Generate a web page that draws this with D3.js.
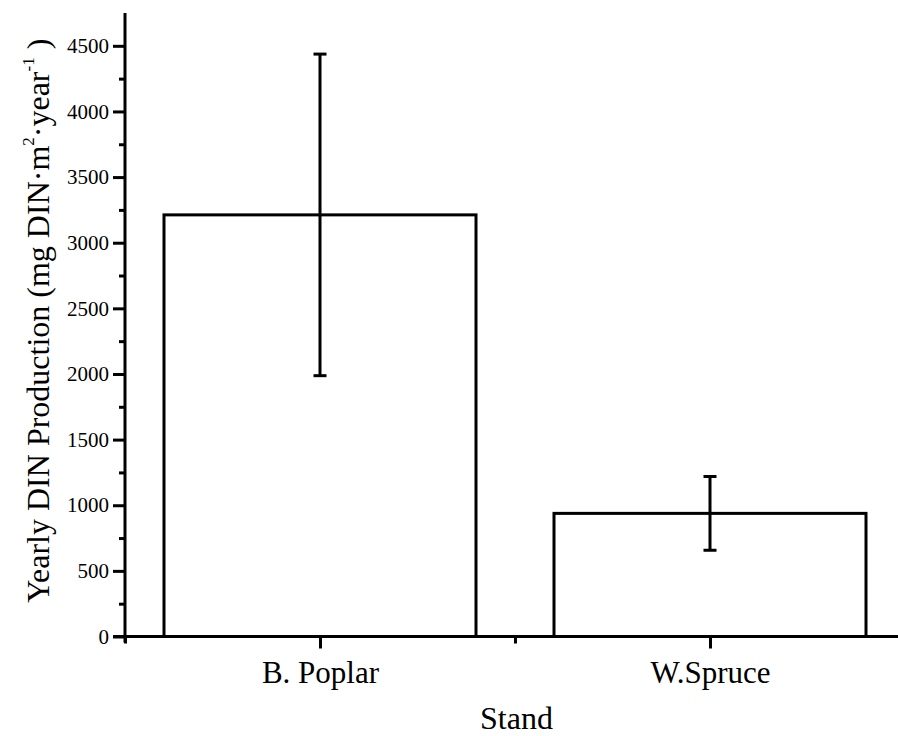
<!DOCTYPE html>
<html>
<head>
<meta charset="utf-8">
<script src="https://cdn.jsdelivr.net/npm/d3@7"></script>
<style>
  html, body { margin: 0; padding: 0; background: #fff; }
  svg { display: block; }
  text { font-family: "Liberation Serif", "Times New Roman", serif; fill: #000; }
</style>
</head>
<body>
<svg id="chart" width="898" height="736"></svg>
<script>
// Yearly dissolved inorganic nitrogen production per stand (mean ± error)
const categories = ["B. Poplar", "W.Spruce"];
const means = [3212, 938];
const errors = [1225, 281];
const yTickValues = [0, 500, 1000, 1500, 2000, 2500, 3000, 3500, 4000, 4500];

const svg = d3.select("#chart");
const W = 898, H = 736;

const y = d3.scaleLinear().domain([0, 4750]).range([636.5, 13]);
// categories sit at positions 1 and 2 on a continuous axis
const x = d3.scaleLinear().domain([0.5, 2.5]).range([125, 905]);
const barWidth = 0.8;

const black = "#000";
const lw = 3;

// bars
svg.append("g").selectAll("rect")
  .data(means)
  .join("rect")
  .attr("x", (d, i) => x(i + 1 - barWidth / 2))
  .attr("width", (d, i) => x(i + 1 + barWidth / 2) - x(i + 1 - barWidth / 2))
  .attr("y", d => y(d))
  .attr("height", d => y(0) - y(d))
  .attr("fill", "#fff")
  .attr("stroke", black)
  .attr("stroke-width", lw);

// error bars
const eb = svg.append("g").attr("stroke", black).attr("stroke-width", lw);
means.forEach((m, i) => {
  const cx = x(i + 1);
  const hi = y(m + errors[i]), lo = y(m - errors[i]);
  eb.append("line").attr("x1", cx).attr("x2", cx).attr("y1", hi).attr("y2", lo);
  eb.append("line").attr("x1", cx - 6.5).attr("x2", cx + 6.5).attr("y1", hi).attr("y2", hi);
  eb.append("line").attr("x1", cx - 6.5).attr("x2", cx + 6.5).attr("y1", lo).attr("y2", lo);
});

// y axis: minor ticks every 250, major every 500
const yMinor = d3.range(250, 4750, 500);
const yAxisG = svg.append("g").attr("transform", `translate(${x(0.5)},0)`);
yAxisG.call(d3.axisLeft(y).tickValues(yMinor).tickSize(6).tickFormat(""))
  .call(g => g.select(".domain").remove());
yAxisG.append("g")
  .call(d3.axisLeft(y).tickValues(yTickValues).tickSize(12).tickPadding(4)
    .tickFormat(d3.format("d")))
  .call(g => g.select(".domain").remove())
  .call(g => g.selectAll("text").style("font-size", "21px"));
yAxisG.selectAll("line").attr("stroke", black).attr("stroke-width", lw);
yAxisG.append("line")
  .attr("x1", 0).attr("x2", 0)
  .attr("y1", y(4750)).attr("y2", y(0) + 6)
  .attr("stroke", black).attr("stroke-width", lw);

// x axis: major ticks at categories, minor ticks between
const xAxisG = svg.append("g").attr("transform", `translate(0,${y(0)})`);
xAxisG.call(d3.axisBottom(x).tickValues([0.5, 1.5, 2.5]).tickSize(7).tickFormat(""))
  .call(g => g.select(".domain").remove());
xAxisG.append("g")
  .call(d3.axisBottom(x).tickValues([1, 2]).tickSize(12).tickPadding(12)
    .tickFormat(d => categories[d - 1]))
  .call(g => g.select(".domain").remove())
  .call(g => g.selectAll("text").style("font-size", "31px"));
xAxisG.selectAll("line").attr("stroke", black).attr("stroke-width", lw);
xAxisG.append("line")
  .attr("x1", x(0.5) - 12).attr("x2", W)
  .attr("y1", 0).attr("y2", 0)
  .attr("stroke", black).attr("stroke-width", lw);

// axis titles
svg.append("text")
  .attr("x", (x(0.5) + W) / 2 + 5)
  .attr("y", 729)
  .attr("text-anchor", "middle")
  .style("font-size", "32px")
  .text("Stand");

const yTitle = svg.append("text")
  .attr("transform", `translate(49,${(y(0) + y(4750)) / 2 - 4}) rotate(-90)`)
  .attr("text-anchor", "middle")
  .style("font-size", "32px");
yTitle.append("tspan").text("Yearly DIN Production (mg DIN·m");
yTitle.append("tspan").attr("dy", -15).style("font-size", "17px").text("2");
yTitle.append("tspan").attr("dy", 15).text("·year");
yTitle.append("tspan").attr("dy", -15).style("font-size", "17px").text("-1");
yTitle.append("tspan").attr("dy", 15).text(" )");
</script>
</body>
</html>
